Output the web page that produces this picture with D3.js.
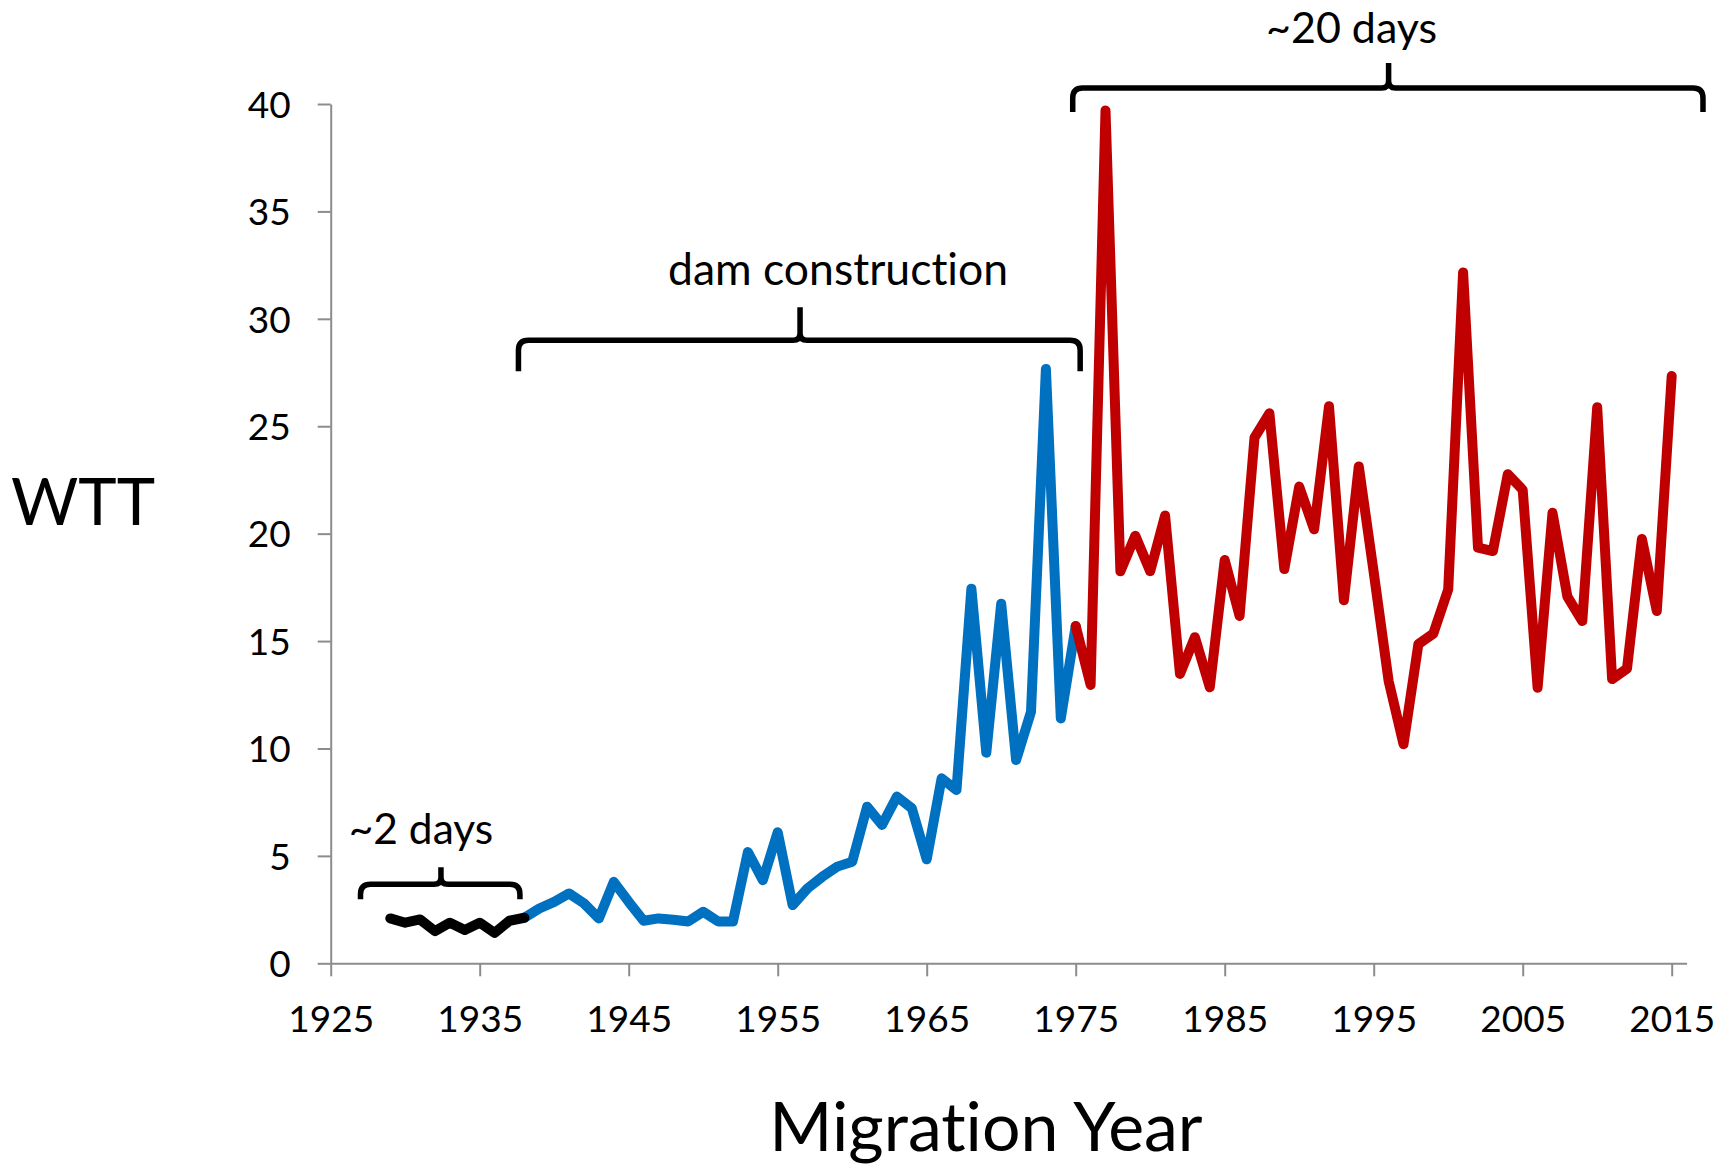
<!DOCTYPE html>
<html>
<head>
<meta charset="utf-8">
<script src="https://cdn.jsdelivr.net/npm/d3@7"></script>
<style>
  body { margin: 0; background: #fff; }
  text { font-family: Lato, "Open Sans", sans-serif; fill: #000; font-variant-ligatures: none; }
</style>
</head>
<body>
<div class="vis-container"></div>
<script>
// pre-dam years (black)
var yearsEarly = [1929, 1930, 1931, 1932, 1933, 1934, 1935, 1936, 1937, 1938];
var wttEarly = [2.09, 1.89, 2.04, 1.50, 1.89, 1.55, 1.89, 1.42, 1.98, 2.12];

// dam construction years (blue)
var yearsDam = [1938, 1939, 1940, 1941, 1942, 1943, 1944, 1945, 1946, 1947,
  1948, 1949, 1950, 1951, 1952, 1953, 1954, 1955, 1956, 1957,
  1958, 1959, 1960, 1961, 1962, 1963, 1964, 1965, 1966, 1967,
  1968, 1969, 1970, 1971, 1972, 1973, 1974, 1975];
var wttDam = [2.12, 2.55, 2.86, 3.25, 2.79, 2.09, 3.79, 2.86, 1.98, 2.09,
  2.03, 1.95, 2.40, 1.95, 1.95, 5.18, 3.87, 6.10, 2.71, 3.49,
  4.03, 4.50, 4.73, 7.29, 6.44, 7.76, 7.22, 4.84, 8.61, 8.07,
  17.44, 9.80, 16.74, 9.46, 11.71, 27.67, 11.40, 15.70];

// post-dam years (red)
var yearsPost = [1975, 1976, 1977, 1978, 1979, 1980, 1981, 1982, 1983, 1984,
  1985, 1986, 1987, 1988, 1989, 1990, 1991, 1992, 1993, 1994,
  1995, 1996, 1997, 1998, 1999, 2000, 2001, 2002, 2003, 2004,
  2005, 2006, 2007, 2008, 2009, 2010, 2011, 2012, 2013, 2014, 2015];
var wttPost = [15.70, 12.96, 39.70, 18.25, 19.90, 18.25, 20.84, 13.47, 15.18, 12.85,
  18.77, 16.17, 24.47, 25.60, 18.35, 22.19, 20.20, 25.93, 16.90, 23.13,
  18.20, 13.15, 10.20, 14.86, 15.35, 17.40, 32.16, 19.35, 19.19, 22.77,
  22.04, 12.83, 20.97, 17.07, 15.93, 25.88, 13.23, 13.72, 19.75, 16.40, 27.34];

var xTicks = [1925, 1935, 1945, 1955, 1965, 1975, 1985, 1995, 2005, 2015];
var yTicks = [0, 5, 10, 15, 20, 25, 30, 35, 40];

// brace annotations: label, start year, end year, middle year, level (WTT units)
var braceLabels = ["~2 days", "dam construction", "~20 days"];
var braceFrom = [1927.0, 1937.6, 1974.8];
var braceTo = [1937.7, 1975.3, 2017.1];
var braceMid = [1932.4, 1956.5, 1996.0];
var braceLevel = [3.68, 29.0, 40.75];

var width = 1720,
  height = 1169;

var svg = d3.select(".vis-container").append("svg")
  .attr("width", width)
  .attr("height", height)
  .style("display", "block");

var x = d3.scaleLinear().domain([1925, 2016]).range([330.7, 1686.6]);
var y = d3.scaleLinear().domain([0, 40]).range([963.3, 104]);

var axisColor = "#8c8c8c";

//y axis
var yAxis = svg.append("g")
  .attr("transform", "translate(" + x(1925) + ",0)")
  .call(d3.axisLeft(y).tickValues(yTicks).tickSize(13).tickSizeOuter(0).tickPadding(27));
//x axis
var xAxis = svg.append("g")
  .attr("transform", "translate(0," + y(0) + ")")
  .call(d3.axisBottom(x).tickValues(xTicks).tickFormat(d3.format("d")).tickSize(13).tickSizeOuter(0).tickPadding(29));

[yAxis, xAxis].forEach(function(g) {
  g.selectAll("path, line").attr("stroke", axisColor).attr("stroke-width", 2);
  g.selectAll("text")
    .attr("font-family", "Lato, sans-serif")
    .attr("font-size", 37)
    .attr("fill", "#000");
});
yAxis.selectAll("text").attr("dy", "0.36em");
xAxis.selectAll("text").attr("dy", "0.72em");

// series lines
var line = d3.line()
  .x(function(d) { return x(d[0]); })
  .y(function(d) { return y(d[1]); });

var series = [
  { years: yearsDam, vals: wttDam, color: "#0070c0" },
  { years: yearsPost, vals: wttPost, color: "#c00000" },
  { years: yearsEarly, vals: wttEarly, color: "#000000" }
];

svg.selectAll("path.series")
  .data(series)
  .enter().append("path")
  .attr("class", "series")
  .attr("d", function(s) { return line(d3.zip(s.years, s.vals)); })
  .attr("fill", "none")
  .attr("stroke", function(s) { return s.color; })
  .attr("stroke-width", 10)
  .attr("stroke-linejoin", "round")
  .attr("stroke-linecap", "round");

// braces
var braceLeg = [15, 31, 24],
  braceTip = [17, 33, 25],
  braceFont = [42.5, 44.5, 43],
  braceGap = [23, 22, 20],
  braceShift = [-20, 38, -37];

function bracePath(x1, x2, xm, yy, leg, tip) {
  var r = 10, c = 7;
  return "M" + x1 + "," + (yy + leg) +
    "L" + x1 + "," + (yy + r) +
    "Q" + x1 + "," + yy + " " + (x1 + r) + "," + yy +
    "L" + (xm - c) + "," + yy +
    "Q" + xm + "," + yy + " " + xm + "," + (yy - c) +
    "L" + xm + "," + (yy - tip) +
    "M" + xm + "," + (yy - c) +
    "Q" + xm + "," + yy + " " + (xm + c) + "," + yy +
    "L" + (x2 - r) + "," + yy +
    "Q" + x2 + "," + yy + " " + x2 + "," + (yy + r) +
    "L" + x2 + "," + (yy + leg);
}

braceLabels.forEach(function(label, i) {
  var yy = y(braceLevel[i]);
  svg.append("path")
    .attr("d", bracePath(x(braceFrom[i]), x(braceTo[i]), x(braceMid[i]), yy, braceLeg[i], braceTip[i]))
    .attr("fill", "none")
    .attr("stroke", "#000")
    .attr("stroke-width", 5.5);
  svg.append("text")
    .attr("x", x(braceMid[i]) + braceShift[i])
    .attr("y", yy - braceTip[i] - braceGap[i])
    .attr("text-anchor", "middle")
    .attr("font-size", braceFont[i])
    .text(label);
});

// axis titles
svg.append("text")
  .attr("x", 83)
  .attr("y", 525)
  .attr("text-anchor", "middle")
  .attr("font-size", 65)
  .text("WTT");

svg.append("text")
  .attr("x", 986)
  .attr("y", 1151)
  .attr("text-anchor", "middle")
  .attr("font-size", 68)
  .text("Migration Year");
</script>
</body>
</html>
